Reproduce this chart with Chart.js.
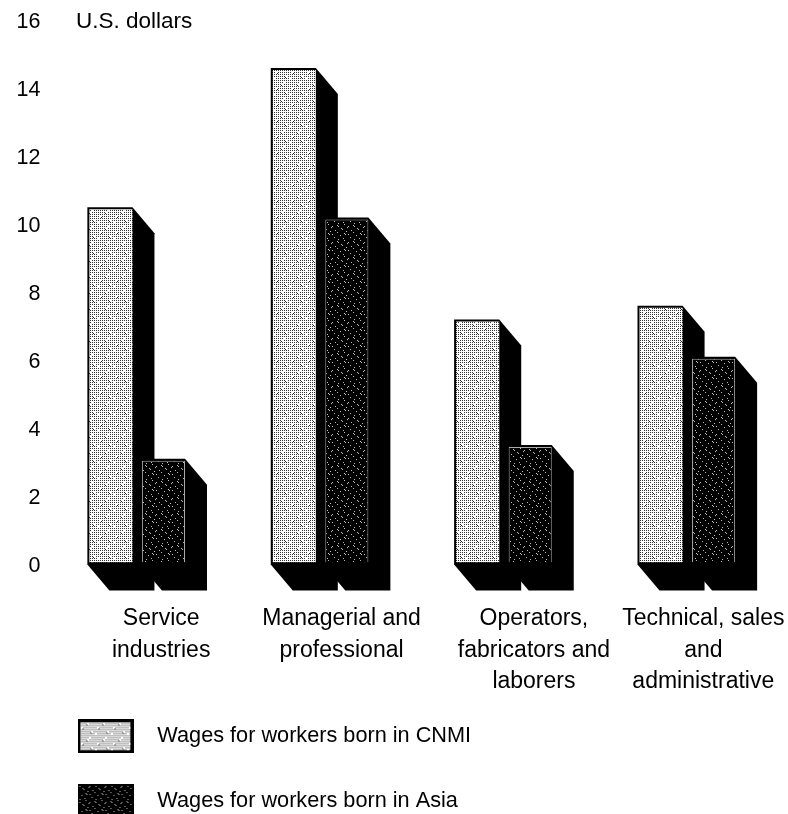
<!DOCTYPE html>
<html>
<head>
<meta charset="utf-8">
<script src="https://cdn.jsdelivr.net/npm/chart.js@4"></script>
<style>html,body{margin:0;padding:0;background:#fff;overflow:hidden}canvas{display:block}</style>
</head>
<body>
<canvas id="c" width="788" height="814"></canvas>
<script>
const categories = [
  ["Service", "industries"],
  ["Managerial and", "professional"],
  ["Operators,", "fabricators and", "laborers"],
  ["Technical, sales", "and", "administrative"]
];
const cnmiWages = [10.4, 14.5, 7.1, 7.5];
const asiaWages = [3.0, 10.1, 3.4, 6.0];
const yTicks = [0, 2, 4, 6, 8, 10, 12, 14, 16];
const seriesNames = ["Wages for workers born in CNMI", "Wages for workers born in Asia"];
const unitLabel = "U.S. dollars";

const FONT = "'Liberation Sans', Arial, sans-serif";

function tile(rows, ink, paper) {
  const c = document.createElement('canvas');
  c.width = rows[0].length; c.height = rows.length;
  const g = c.getContext('2d');
  g.fillStyle = paper; g.fillRect(0, 0, c.width, c.height);
  g.fillStyle = ink;
  rows.forEach((r, y) => [...r].forEach((ch, x) => { if (ch === '#') g.fillRect(x, y, 1, 1); }));
  return c;
}
const lightTile = tile([
  "#.#.#.#.#.#.#.#.",
  "................",
  "#.#.#.#.#.#...#.",
  "................",
  "#.#.#.#.#...#.#.",
  ".........#......",
  "#.#.#.#.#.#.#.#.",
  "................",
  "#.#...#.#.#.#.#.",
  ".....#..........",
  "#.#.#.#.#.#.#.#.",
  "................",
  "#.#.#.#.#.#.#...",
  ".............#..",
  "#...#.#.#.#.#.#.",
  "................"
], "#333", "#fff");
const darkTile = tile([
  "........#.......",
  ".#..............",
  "..#.........#...",
  "...........#....",
  ".....#..........",
  "......#.........",
  "...............#",
  "..........#.....",
  ".#..............",
  "........#.......",
  ".........#..#...",
  "....#...........",
  "................",
  "..............#.",
  ".......#........",
  "..#............."
], "#bbb", "#000");

function legendSwatch(t, frame) {
  const c = document.createElement('canvas');
  c.width = 56; c.height = 34;
  const g = c.getContext('2d');
  g.fillStyle = '#000'; g.fillRect(0, 0, c.width, c.height);
  g.fillStyle = g.createPattern(t, 'repeat');
  g.fillRect(frame, frame, c.width - 2 * frame, c.height - 2 * frame);
  return c;
}

const canvas = document.getElementById('c');
const ctx = canvas.getContext('2d');
const lightFill = ctx.createPattern(lightTile, 'repeat');
const darkFill = ctx.createPattern(darkTile, 'repeat');
const swatches = [legendSwatch(lightTile, 3), legendSwatch(darkTile, 2)];

const depthPlugin = {
  id: 'depth',
  beforeDraw(chart) {
    const g = chart.ctx;
    g.save(); g.fillStyle = '#fff'; g.fillRect(0, 0, chart.width, chart.height); g.restore();
    const items = chart.scales.x.getLabelItems();
    if (!items._moved) {
      const shifts = [2, -1, 8, -6];
      items.forEach((it, i) => { it.options.translation[0] += shifts[i]; });
      items._moved = true;
    }
  },
  afterLayout(chart) {
    chart.legend.left = 21.5;
    chart.legend.top = 682.5;
    chart.scales.x.bottom = 700;
  },
  beforeDatasetsDraw(chart) {
    const g = chart.ctx;
    g.save();
    g.fillStyle = '#000';
    chart.data.datasets.forEach((d, di) => {
      chart.getDatasetMeta(di).data.forEach(b => {
        const l = b.x - b.width / 2, r = b.x + b.width / 2, t = b.y, base = b.base;
        g.beginPath();
        g.moveTo(l - 2, t - 2);
        g.lineTo(r, t - 2);
        g.lineTo(r + 22, t + 24);
        g.lineTo(r + 22, base + 28);
        g.lineTo(l + 20, base + 28);
        g.lineTo(l - 2, base + 2);
        g.closePath();
        g.fill();
      });
    });
    g.restore();
  },
  afterDraw(chart) {
    const g = chart.ctx;
    g.save();
    g.fillStyle = '#000';
    g.font = '22.5px ' + FONT;
    g.textAlign = 'left';
    g.textBaseline = 'middle';
    g.fillText(unitLabel, 76, 22);
    g.restore();
  }
};

new Chart(ctx, {
  type: 'bar',
  data: {
    labels: categories,
    datasets: [
      { label: seriesNames[0], data: cnmiWages, backgroundColor: lightFill, borderWidth: 0,
        categoryPercentage: 0.573, barPercentage: 0.82 },
      { label: seriesNames[1], data: asiaWages, backgroundColor: darkFill, borderColor: '#aaa', borderWidth: 1,
        categoryPercentage: 0.573, barPercentage: 0.82 }
    ]
  },
  options: {
    responsive: false,
    animation: false,
    devicePixelRatio: 1,
    layout: { padding: { top: 19, right: 9, left: 0, bottom: 0 } },
    scales: {
      x: {
        grid: { display: false, drawTicks: false },
        border: { display: false },
        ticks: {
          color: '#000', font: { family: FONT, size: 23, lineHeight: 1.35 },
          maxRotation: 0, minRotation: 0, autoSkip: false, padding: 41, labelOffset: 22
        },
        afterFit(s) { s.height = 112; s.paddingLeft = 0; s.paddingRight = 0; }
      },
      y: {
        min: 0, max: 16,
        grid: { display: false, drawTicks: false },
        border: { display: false },
        afterBuildTicks(s) { s.ticks = yTicks.map(v => ({ value: v })); },
        ticks: { color: '#000', font: { family: FONT, size: 21.5 }, padding: 5, labelOffset: 3 },
        afterFit(s) { s.width = 45.5; s.paddingTop = 0; s.paddingBottom = 0; }
      }
    },
    plugins: {
      tooltip: { enabled: false },
      title: { display: false },
      legend: {
        position: 'bottom', align: 'start',
        labels: {
          color: '#000', font: { family: FONT, size: 21.7 },
          usePointStyle: true, pointStyleWidth: 82, padding: 43,
          generateLabels() {
            return seriesNames.map((n, i) => ({ text: n, pointStyle: swatches[i], datasetIndex: i, fontColor: '#000', hidden: false, lineWidth: 0 }));
          }
        }
      }
    }
  },
  plugins: [depthPlugin]
});
</script>
</body>
</html>
